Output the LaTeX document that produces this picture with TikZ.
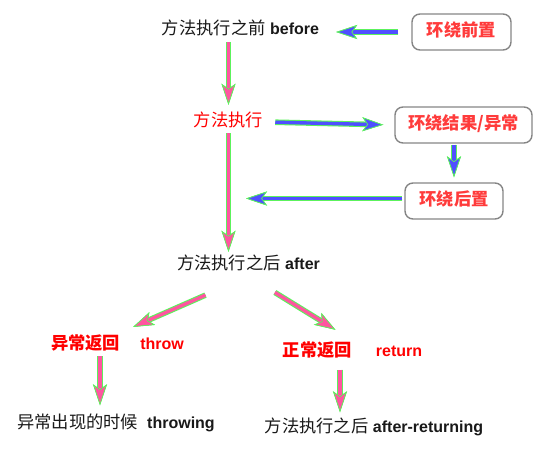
\documentclass[tikz,border=0pt]{standalone}
\usepackage{fontspec}
\setmainfont{Liberation Sans}
\newfontfamily\cjk[Scale=1.08]{Noto Sans CJK SC}
\usepackage{tikz}
\usetikzlibrary{arrows.meta}

\definecolor{glow}{HTML}{5CF25C}
\definecolor{flowblue}{HTML}{4F4FFF}
\definecolor{flowpink}{HTML}{FF55A0}
\definecolor{boxred}{HTML}{FF3B3B}
\definecolor{boxgray}{HTML}{858585}

\begin{document}
\begin{tikzpicture}[x=1pt,y=-1pt,
    every node/.style={font=\fontsize{16}{18}\selectfont,inner sep=2pt,
                       text height=14pt,text depth=4pt,text=black!90},
    flow/.style={draw=#1,line width=3.4pt,
                 -{Stealth[length=21pt,width=14pt,inset=5pt,color=glow,fill=#1,line width=0.7pt]},
                 preaction={draw=glow,line width=5.6pt}}]
  \tikzstyle{around}=[draw=boxgray,line width=1.4pt,rounded corners=8pt,text=boxred,
                      minimum width=99pt,minimum height=36pt,
                      font=\fontsize{16}{18}\selectfont\bfseries]
  \tikzstyle{hot}=[text=red]
  \useasboundingbox (0,0) rectangle (544,454);

  \node (before) at (240.5,30) {{\cjk 方法执行之前} \textbf{before}};
  \node[around] (pre) at (461.5,32) {\cjk 环绕前置};
  \node[hot] (exec) at (228.5,122) {\cjk 方法执行};
  \node[around,minimum width=137pt] (result) at (463.5,125) {\cjk 环绕结果/异常};
  \node[around,minimum width=98pt] (post) at (454,201) {\cjk 环绕后置};
  \coordinate (join) at (246,198.5);
  \node (after) at (248.5,265) {{\cjk 方法执行之后} \textbf{after}};

  \node[hot] (throw) at (117.5,345) {{\cjk\bfseries 异常返回}\hspace{20pt}\textbf{throw}};
  \node[hot] (ret) at (352.5,351.5) {{\cjk\bfseries 正常返回}\hspace{24pt}\textbf{return}};
  \node (throwing) at (116,423.5) {{\cjk 异常出现的时候}\hspace{9pt}\textbf{throwing}};
  \node (afterret) at (374,427.5) {{\cjk 方法执行之后} \textbf{after-returning}};

  \path (pre.west) edge[flow=flowblue,shorten <=13pt,shorten >=15pt] (pre.west -| before.east)
        (before.south -| exec) edge[flow=flowpink,shorten <=1pt,shorten >=6pt] (exec.north)
        (exec.east) edge[flow=flowblue,shorten <=10pt,shorten >=11pt] (result.west)
        (result.south -| post.north) edge[flow=flowblue,shorten <=1pt,shorten >=5pt] (post.north)
        (post.west |- join) edge[flow=flowblue,shorten <=2pt] (join)
        (exec.south) edge[flow=flowpink,shorten >=2pt] (exec.south |- after.north)
        (after.south) edge[flow=flowpink,shorten <=47pt,shorten >=17pt] (throw.north)
        (after.south) edge[flow=flowpink,shorten <=31pt,shorten >=20pt] (ret.north)
        ([xshift=-17.5pt]throw.south) edge[flow=flowpink,shorten >=7pt] ([xshift=-17.5pt]throw.south |- throwing.north)
        ([xshift=-12.5pt]ret.south) edge[flow=flowpink,shorten <=7pt,shorten >=4pt] ([xshift=-12.5pt]ret.south |- afterret.north);
\end{tikzpicture}
\end{document}
